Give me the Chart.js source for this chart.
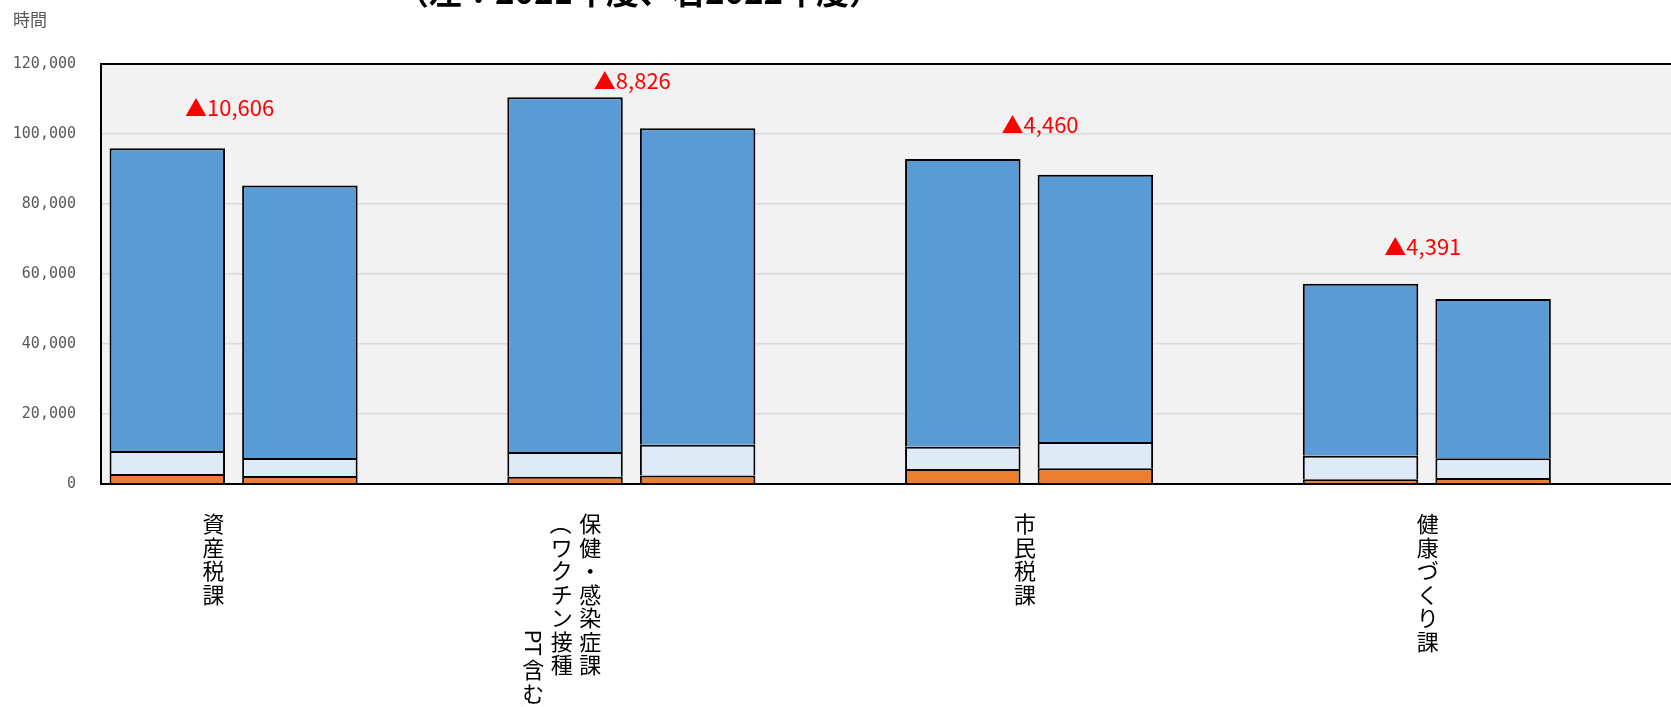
<!DOCTYPE html>
<html lang="ja">
<head>
<meta charset="utf-8">
<script src="https://cdn.jsdelivr.net/npm/chart.js@4.4.1/dist/chart.umd.min.js"></script>
<style>
    html, body { margin: 0; padding: 0; background: #fff; overflow: hidden; }
    #wrap { position: relative; width: 1720px; height: 707px; }
</style>
</head>
<body>
<div id="wrap"><canvas id="hoursChart" width="1720" height="707"></canvas></div>
<script>
// 課別の時間数（左：2021年度、右：2022年度）
const departments = ['資産税課', '保健・感染症課（ワクチン接種PT含む）', '市民税課', '健康づくり課'];
const years = ['2021年度', '2022年度'];

// 各課 [2021, 2022] の順
const bottomHours = [2860, 2290, 2090, 2400, 4290, 4480, 1330, 1710];
const middleHours = [6570, 5140, 7050, 8830, 6370, 7520, 6770, 5620];
const topHours = [86470, 77864, 101340, 90424, 82190, 76390, 49150, 45529];

// 前年度からの減少時間
const decreases = [10606, 8826, 4460, 4391];

const yTicks = [0, 20000, 40000, 60000, 80000, 100000, 120000];

// x軸ラベル（縦書き、右の列から）
const labelColumns = [
    ['資産税課'],
    ['保健・感染症課', '（ワクチン接種', '\u3000\u3000\u3000\u3000\u3000PT含む）'],
    ['市民税課'],
    ['健康づくり課']
];

// 1課につき3枠（2本の棒＋空き）
function toSlots(values) {
    const out = [];
    departments.forEach((d, g) => {
        out.push(values[g * 2], values[g * 2 + 1], null);
    });
    return out;
}
const slotLabels = [];
departments.forEach(d => { years.forEach(y => slotLabels.push(d + ' ' + y)); slotLabels.push(''); });

const fmt = v => v.toLocaleString('en-US');

// 縦書きの1列を描く（英数字は横倒し、括弧は回転）
function drawColumn(ctx, text, x, y, pitch) {
    let i = 0;
    while (i < text.length) {
        const ch = text[i];
        if (/[A-Za-z0-9]/.test(ch)) {
            let run = '';
            while (i < text.length && /[A-Za-z0-9]/.test(text[i])) run += text[i++];
            const w = ctx.measureText(run).width;
            ctx.save();
            ctx.translate(x, y);
            ctx.rotate(Math.PI / 2);
            ctx.textAlign = 'left';
            ctx.textBaseline = 'middle';
            ctx.fillText(run, 0, 0);
            ctx.restore();
            y += w + 2;
            continue;
        }
        if ('（）()'.includes(ch)) {
            ctx.save();
            ctx.translate(x, y + pitch / 2);
            ctx.rotate(Math.PI / 2);
            ctx.textAlign = 'center';
            ctx.textBaseline = 'middle';
            ctx.fillText(ch, 0, 0);
            ctx.restore();
        } else if (ch !== '\u3000') {
            ctx.textAlign = 'center';
            ctx.textBaseline = 'middle';
            ctx.fillText(ch, x, y + pitch / 2);
        }
        y += pitch;
        i++;
    }
}

const labelDx = [-20, -41, -4, 1];     // 課名の列位置（2本の中央から）
const noteDx = [-4, 1, 11, -4];        // 減少時間の表示位置
const noteLift = [41, 17, 34, 37];

const decorPlugin = {
    id: 'decor',
    beforeDraw(chart) {
        const { ctx, chartArea: a } = chart;
        ctx.save();
        ctx.fillStyle = '#F2F2F2';
        ctx.fillRect(a.left, a.top, a.right - a.left, a.bottom - a.top);
        ctx.restore();
    },
    afterDraw(chart) {
        const { ctx, chartArea: a } = chart;
        const xs = chart.scales.x, ys = chart.scales.y;
        ctx.save();

        // 上枠
        ctx.strokeStyle = '#000';
        ctx.lineWidth = 2;
        ctx.beginPath();
        ctx.moveTo(a.left, a.top);
        ctx.lineTo(a.right, a.top);
        ctx.stroke();

        // タイトル（上端で切れている）
        ctx.fillStyle = '#000';
        ctx.font = 'bold 33px "Noto Sans CJK JP"';
        ctx.textAlign = 'center';
        ctx.textBaseline = 'alphabetic';
        ctx.fillText('（左：2021年度、右2022年度）', 639, 4);

        // 単位
        ctx.fillStyle = '#595959';
        ctx.font = '17px "Noto Sans CJK JP"';
        ctx.textAlign = 'left';
        ctx.textBaseline = 'middle';
        ctx.fillText('時間', 13, 20);

        departments.forEach((d, g) => {
            const cx = (xs.getPixelForValue(g * 3) + xs.getPixelForValue(g * 3 + 1)) / 2;

            // 減少時間
            const total = bottomHours[g * 2] + middleHours[g * 2] + topHours[g * 2];
            ctx.fillStyle = '#FF0000';
            ctx.font = '22px "Noto Sans CJK JP"';
            ctx.textAlign = 'center';
            ctx.textBaseline = 'middle';
            ctx.fillText('▲' + fmt(decreases[g]), cx + noteDx[g], ys.getPixelForValue(total) - noteLift[g]);

            // 課名（縦書き）
            ctx.fillStyle = '#000';
            ctx.font = '22px "Noto Sans CJK JP"';
            labelColumns[g].forEach((col, k) => {
                drawColumn(ctx, col, cx + labelDx[g] - k * 28.5, 512, 23.5);
            });
        });
        ctx.restore();
    }
};

const barStyle = {
    borderColor: '#000',
    borderWidth: 2,
    borderSkipped: 'start',
    barPercentage: 0.871,
    categoryPercentage: 1.0
};

new Chart(document.getElementById('hoursChart'), {
    type: 'bar',
    data: {
        labels: slotLabels,
        datasets: [
            { label: 'bottom', data: toSlots(bottomHours), backgroundColor: '#ED7D31', ...barStyle },
            { label: 'middle', data: toSlots(middleHours), backgroundColor: '#DEEBF7', ...barStyle },
            { label: 'top', data: toSlots(topHours), backgroundColor: '#5B9BD5', ...barStyle }
        ]
    },
    options: {
        responsive: false,
        devicePixelRatio: 1,
        animation: false,
        layout: { padding: { top: 64, bottom: 223, left: 0, right: 28 } },
        plugins: {
            legend: { display: false },
            tooltip: { enabled: false }
        },
        scales: {
            x: {
                stacked: true,
                ticks: { display: false },
                grid: { display: false },
                border: { color: '#000', width: 2 },
                afterFit: s => { s.height = 0; }
            },
            y: {
                stacked: true,
                min: 0,
                max: 120000,
                afterBuildTicks: s => { s.ticks = yTicks.map(v => ({ value: v })); },
                ticks: {
                    callback: v => fmt(v),
                    color: '#595959',
                    font: { family: '"DejaVu Sans Mono"', size: 15 },
                    padding: 25
                },
                grid: { color: '#D9D9D9', lineWidth: 1.5, drawTicks: false },
                border: { color: '#000', width: 2 },
                afterFit: s => { s.width = 101; }
            }
        }
    },
    plugins: [decorPlugin]
});
</script>
</body>
</html>
